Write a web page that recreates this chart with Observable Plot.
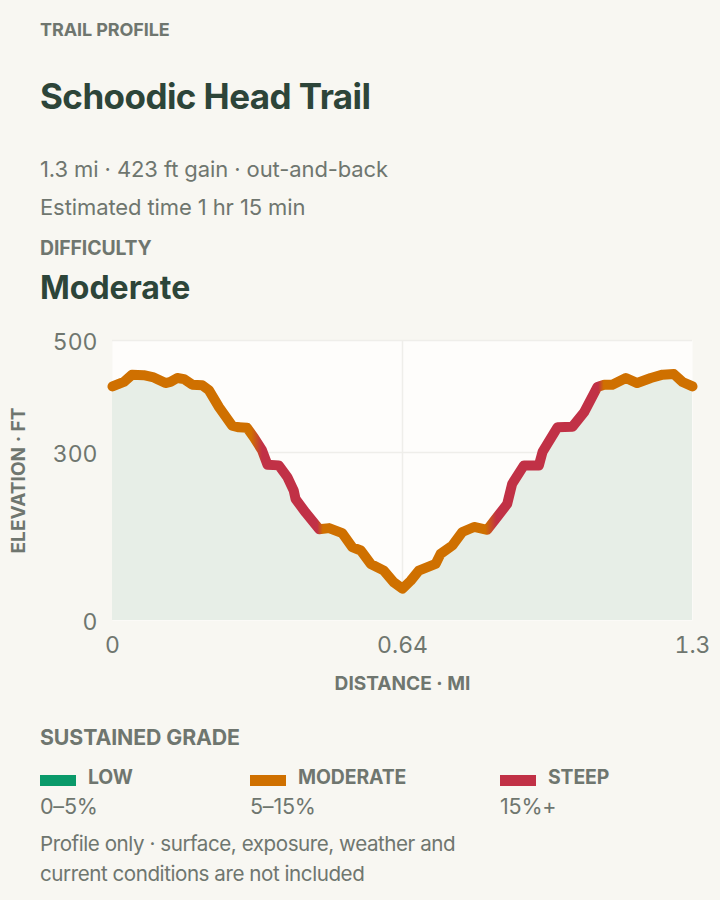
<!DOCTYPE html>
<html>
<head>
<meta charset="utf-8">
<script src="https://cdn.jsdelivr.net/npm/d3@7"></script>
<script src="https://cdn.jsdelivr.net/npm/@observablehq/plot@0.6"></script>
<style>
  html,body{margin:0;padding:0;background:#f8f7f2;}
  body{width:720px;height:900px;position:relative;overflow:hidden;font-family:Inter,sans-serif;color:#6f766f;}
  .t{position:absolute;left:40px;white-space:nowrap;}
  .eyebrow{font-size:19.4px;font-weight:700;line-height:24px;letter-spacing:-0.1px;}
  .big{font-weight:700;color:#2d4539;}
  .sub{font-size:22px;line-height:30px;font-weight:400;letter-spacing:-0.1px;}
  .small{font-size:20.6px;letter-spacing:-0.45px;}
  #chart{position:absolute;left:0;top:320px;}
  #chart svg{display:block;background:transparent;}
  .sw{position:absolute;width:36px;height:11px;}
</style>
</head>
<body>
<div class="t eyebrow" style="top:18px;font-size:18px">TRAIL PROFILE</div>
<div class="t big" style="top:73px;font-size:35px;line-height:46px;letter-spacing:-0.56px">Schoodic Head Trail</div>
<div class="t sub" style="top:154px">1.3 mi · 423 ft gain · out-and-back</div>
<div class="t sub" style="top:192px">Estimated time 1 hr 15 min</div>
<div class="t eyebrow" style="top:236px">DIFFICULTY</div>
<div class="t big" style="top:267px;font-size:32px;line-height:42px">Moderate</div>
<div id="chart"></div>
<div class="t eyebrow" style="top:725px;font-size:21.3px">SUSTAINED GRADE</div>
<div id="legend"></div>
<div class="t sub small" style="top:829px">Profile only · surface, exposure, weather and</div>
<div class="t sub small" style="top:859px">current conditions are not included</div>
<script>
const distanceMi = [0,.025,.043,.069,.091,.117,.128,.143,.158,.176,.198,.213,.235,.264,.279,.297,.312,.330,.342,.367,.386,.400,.404,.426,.456,.478,.507,.529,.548,.570,.599,.621,.640,.658,.676,.713,.724,.750,.772,.798,.827,.849,.871,.882,.908,.941,.949,.982,1.015,1.041,1.070,1.085,1.103,1.133,1.158,1.188,1.214,1.239,1.258,1.28];
const elevationFt = [418,426,439,438,434,424,426,433,431,421,420,411,381,348,345,344,327,304,278,277,256,232,217,193,163,165,156,131,125,101,89,68,57,71,89,101,119,134,158,167,162,185,208,244,277,277,301,345,346,372,417,421,421,433,424,433,439,440,426,418];
const gradeNames = ["LOW","MODERATE","STEEP"];
const gradeRanges = ["0–5%","5–15%","15%+"];
const gradeColors = ["#0a9a6a","#cf7000","#c13146"];
const legendLeft = [40,250,500];
// where the sustained grade band changes along the trail
const steepStarts = [0.318,0.835];
const steepEnds = [0.458,1.078];
const blendMi = 0.012;
const xTicks = [0,0.64,1.28];
const xTickLabels = ["0","0.64","1.3"];
const yTicks = [0,300,500];
const xMax = 1.28, yMax = 500;

const profile = distanceMi.map((d,i)=>({d,e:elevationFt[i]}));
const plot = Plot.plot({
  width:720,height:380,
  marginLeft:112,marginRight:28,marginTop:20,marginBottom:80,
  x:{domain:[0,xMax]},
  y:{domain:[0,yMax]},
  style:{fontFamily:"Inter,sans-serif",background:"transparent",overflow:"visible"},
  marks:[
    Plot.frame({fill:"#fefdfb",stroke:null}),
    Plot.ruleY(yTicks.slice(1),{stroke:"#efeeea",strokeWidth:1.5}),
    Plot.ruleX([xTicks[1]],{stroke:"#efeeea",strokeWidth:1.5}),
    Plot.areaY(profile,{x:"d",y:"e",fill:"#e6ede6",fillOpacity:0.97}),
    Plot.line(profile,{x:"d",y:"e",stroke:"url(#gradeRamp)",strokeWidth:10,strokeLinejoin:"round",strokeLinecap:"round"}),
    Plot.axisX({ticks:xTicks,tickSize:0,tickPadding:16,tickFormat:d=>xTickLabels[xTicks.indexOf(d)],label:null,fontSize:23,color:"#6f766f"}),
    Plot.axisY({ticks:yTicks,tickSize:0,tickPadding:15,dy:2.5,label:null,fontSize:23,color:"#6f766f"}),
    Plot.text(["DISTANCE · MI"],{frameAnchor:"bottom",dy:69,fontSize:19.1,fontWeight:700,fill:"#6f766f"}),
    Plot.text(["ELEVATION · FT"],{frameAnchor:"left",textAnchor:"middle",dx:-94,rotate:-90,fontSize:19.1,fontWeight:700,fill:"#6f766f"})
  ]
});
// gradient runs along the path's bounding box, i.e. 0..xMax
const defs = d3.select(plot).insert("defs",":first-child");
const grad = defs.append("linearGradient").attr("id","gradeRamp").attr("x1",0).attr("x2",1).attr("y1",0).attr("y2",0);
const stop=(x,c)=>grad.append("stop").attr("offset",x/xMax).attr("stop-color",c);
stop(0,gradeColors[1]);
steepStarts.forEach((s,i)=>{
  stop(s-blendMi,gradeColors[1]);stop(s+blendMi,gradeColors[2]);
  stop(steepEnds[i]-blendMi/2,gradeColors[2]);stop(steepEnds[i]+blendMi/2,gradeColors[1]);
});
stop(xMax,gradeColors[1]);
document.getElementById("chart").append(plot);

const lg=document.getElementById("legend");
gradeNames.forEach((n,i)=>{
  const x=legendLeft[i];
  lg.insertAdjacentHTML("beforeend",
   `<div class="sw" style="left:${x}px;top:775px;background:${gradeColors[i]}"></div>
    <div class="t eyebrow" style="left:${x+48}px;top:765px">${n}</div>
    <div class="t sub" style="left:${x}px;top:791px;font-size:21.5px;letter-spacing:-0.2px">${gradeRanges[i]}</div>`);
});
</script>
</body>
</html>
